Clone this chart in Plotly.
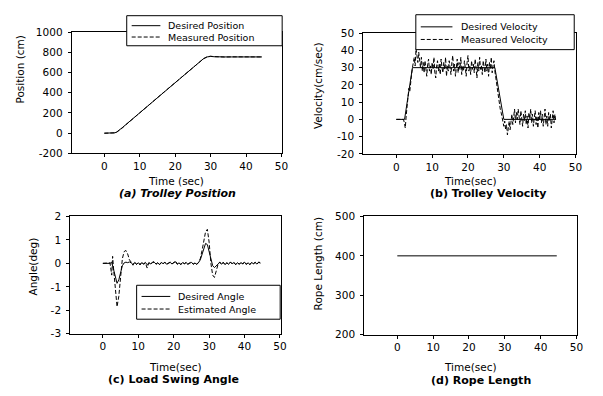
import plotly.graph_objects as go

# ---------------- data ----------------
pos_time = [0, 1, 2, 2.5, 3, 3.5, 4, 4.5, 5, 6, 7, 8, 9, 10, 11, 12, 13, 14, 15, 16, 17, 18, 19, 20,
            21, 22, 23, 24, 25, 26, 27, 28, 29, 30, 31, 32, 34, 36, 38, 40, 42, 44, 44.5]
pos_desired = [0, 0, 0, 0, 4, 12, 24, 38, 53, 83, 113, 143, 173, 203, 233, 263, 293, 323, 353, 383, 413, 443,
               473, 503, 533, 563, 593, 623, 653, 683, 712, 738, 755, 760, 757, 755, 755, 755, 755, 755, 755, 755, 755]
pos_measured = [0, 0, 0, 0, 3, 10, 21, 35, 50, 81, 112, 142, 172, 202, 232, 262, 292, 322, 352, 382, 412, 442,
                472, 502, 532, 562, 592, 622, 652, 682, 711, 737, 756, 762, 758, 755, 754, 756, 755, 754, 756, 755, 755]

vel_time = [
    0, 0.25, 0.5, 0.75, 1, 1.25, 1.5, 1.75, 2, 2.25, 2.5, 2.75, 3, 3.25, 3.5, 3.75,
    4, 4.25, 4.5, 4.75, 5, 5.25, 5.5, 5.75, 6, 6.25, 6.5, 6.75, 7, 7.25, 7.5, 7.75,
    8, 8.25, 8.5, 8.75, 9, 9.25, 9.5, 9.75, 10, 10.25, 10.5, 10.75, 11, 11.25, 11.5, 11.75,
    12, 12.25, 12.5, 12.75, 13, 13.25, 13.5, 13.75, 14, 14.25, 14.5, 14.75, 15, 15.25, 15.5, 15.75,
    16, 16.25, 16.5, 16.75, 17, 17.25, 17.5, 17.75, 18, 18.25, 18.5, 18.75, 19, 19.25, 19.5, 19.75,
    20, 20.25, 20.5, 20.75, 21, 21.25, 21.5, 21.75, 22, 22.25, 22.5, 22.75, 23, 23.25, 23.5, 23.75,
    24, 24.25, 24.5, 24.75, 25, 25.25, 25.5, 25.75, 26, 26.25, 26.5, 26.75, 27, 27.25, 27.5, 27.75,
    28, 28.25, 28.5, 28.75, 29, 29.25, 29.5, 29.75, 30, 30.25, 30.5, 30.75, 31, 31.25, 31.5, 31.75,
    32, 32.25, 32.5, 32.75, 33, 33.25, 33.5, 33.75, 34, 34.25, 34.5, 34.75, 35, 35.25, 35.5, 35.75,
    36, 36.25, 36.5, 36.75, 37, 37.25, 37.5, 37.75, 38, 38.25, 38.5, 38.75, 39, 39.25, 39.5, 39.75,
    40, 40.25, 40.5, 40.75, 41, 41.25, 41.5, 41.75, 42, 42.25, 42.5, 42.75, 43, 43.25, 43.5, 43.75,
    44, 44.25, 44.5]
vel_measured = [
    0, 0, 0, 0, 0, 0, 0, 0, 0, -2, -5, 2, 9, 14, 18, 16,
    23, 26, 30, 33, 36, 31, 41, 37, 33, 39, 35, 30, 36, 28, 33, 27,
    34, 29, 25, 32, 35, 28, 31, 26, 33, 29, 36, 27, 24, 31, 34, 28,
    32, 26, 35, 30, 27, 33, 29, 36, 25, 31, 28, 34, 30, 26, 33, 37,
    28, 32, 25, 30, 35, 27, 33, 29, 36, 26, 31, 28, 34, 30, 25, 33,
    37, 28, 31, 26, 34, 29, 32, 27, 35, 30, 24, 33, 28, 36, 29, 31,
    26, 34, 30, 27, 35, 28, 32, 25, 33, 29, 36, 27, 31, 34, 28, 24,
    20, 18, 13, 10, 6, 4, 1, -2, -4, -1, -6, -3, -9, -5, -1, -6,
    -2, 3, -3, 1, 6, -2, 4, 0, 6, 2, -3, 5, 1, -4, 3, -1,
    5, -3, 2, -5, 4, 0, 6, -2, 3, -4, 1, 5, -3, 2, -5, 4,
    0, 5, -2, 3, -4, 1, 6, -3, 2, -4, 4, -1, 3, -5, 2, 5,
    -2, 3, -1]
vel_des_time = [0, 2, 2.3, 4.5, 6, 27.5, 30, 44.5]
vel_desired = [0, 0, 0, 30, 30, 30, 0, 0]

ang_time = [0, 0.5, 1, 1.5, 2, 2.5, 2.75, 3, 3.5, 4, 4.5, 5, 5.5, 6, 6.5, 7, 7.5, 8, 8.5, 9, 9.5,
            10, 10.5, 11, 11.5, 12, 12.5, 13, 13.5, 14, 14.5, 15, 15.5, 16, 16.5, 17, 17.5, 18, 18.5, 19, 19.5,
            20, 20.5, 21, 21.5, 22, 22.5, 23, 23.5, 24, 24.5, 25, 25.5, 26, 26.5, 27, 27.5, 28, 28.5, 29, 29.5,
            30, 30.5, 31, 31.5, 32, 32.5, 33, 33.5, 34, 34.5, 35, 35.5, 36, 36.5, 37, 37.5, 38, 38.5, 39, 39.5,
            40, 40.5, 41, 41.5, 42, 42.5, 43, 43.5, 44, 44.5]
ang_estimated = [0, 0, 0, 0, 0.02, -0.5, 0.3, -0.2, -1.0, -1.85, -1.4, -0.4, 0.2, 0.5, 0.55, 0.4, 0.15, 0.05, -0.08, 0.06, -0.05,
                 0.03, -0.07, 0.05, -0.04, 0.02, -0.2, 0.04, -0.03, 0.05, 0.08, -0.04, 0.03, -0.06, 0.04, -0.02, 0.05, -0.05, 0.02, 0.06, -0.03,
                 0.04, 0.1, -0.04, 0.03, -0.06, 0.05, -0.02, 0.04, -0.05, 0.03, 0.06, -0.04, 0.02, -0.05, 0.04, 0.2, 0.55, 1.0, 1.35, 1.45,
                 0.9, 0.0, -0.5, -0.6, -0.3, -0.05, 0.06, -0.04, 0.05, -0.07, 0.03, -0.05, 0.06, -0.02, 0.04, -0.06, 0.03, -0.04, 0.05, -0.03,
                 0.07, -0.05, 0.03, -0.06, 0.04, -0.02, 0.05, -0.04, 0.06, 0.02]
ang_desired = [0, 0, 0, 0, 0, 0.05, -0.1, -0.3, -0.6, -0.85, -0.7, -0.35, -0.1, 0.02, 0.05, 0.03, 0.06, 0.02, -0.05, 0.04, -0.03,
               0.02, -0.04, 0.03, -0.02, 0.04, -0.06, 0.02, -0.02, 0.03, 0.05, -0.03, 0.02, -0.04, 0.03, -0.01, 0.04, -0.03, 0.01, 0.04, -0.02,
               0.03, 0.07, -0.03, 0.02, -0.04, 0.03, -0.01, 0.03, -0.03, 0.02, 0.04, -0.03, 0.01, -0.03, 0.03, 0.15, 0.4, 0.7, 0.85, 0.8,
               0.45, 0.1, -0.1, -0.18, -0.1, -0.02, 0.04, -0.03, 0.03, -0.05, 0.02, -0.03, 0.04, -0.01, 0.03, -0.04, 0.02, -0.03, 0.03, -0.02,
               0.05, -0.03, 0.02, -0.04, 0.03, -0.01, 0.03, -0.03, 0.04, 0.01]

rope_time = [0, 10, 20, 30, 40, 44.5]
rope_length = [400, 400, 400, 400, 400, 400]

x_ticks = [0, 10, 20, 30, 40, 50]
pos_ticks = [-200, 0, 200, 400, 600, 800, 1000]
pos_ticktext = ["-200", "0", "200", "400", "600", "800", "1000"]
vel_ticks = [-20, -10, 0, 10, 20, 30, 40, 50]
vel_ticktext = ["-20", "-10", "0", "10", "20", "30", "40", "50"]
ang_ticks = [-3, -2, -1, 0, 1, 2]
ang_ticktext = ["-3", "-2", "-1", "0", "1", "2"]
rope_ticks = [200, 300, 400, 500]
rope_ticktext = ["200", "300", "400", "500"]

# ---------------- figure ----------------
W, H = 603, 396
def px(x):
    return x / W
def py(y):
    return 1 - y / H

FONT = "DejaVu Sans"
fig = go.Figure()
solid = dict(color="black", width=1)
dashed = dict(color="black", width=1, dash="4px,2px")

fig.add_trace(go.Scatter(x=pos_time, y=pos_desired, mode="lines", line=solid, xaxis="x", yaxis="y"))
fig.add_trace(go.Scatter(x=pos_time, y=pos_measured, mode="lines", line=dashed, xaxis="x", yaxis="y"))
fig.add_trace(go.Scatter(x=vel_time, y=vel_measured, mode="lines", line=dashed, xaxis="x2", yaxis="y2"))
fig.add_trace(go.Scatter(x=vel_des_time, y=vel_desired, mode="lines", line=solid, xaxis="x2", yaxis="y2"))
fig.add_trace(go.Scatter(x=ang_time, y=ang_desired, mode="lines", line=solid, xaxis="x3", yaxis="y3"))
fig.add_trace(go.Scatter(x=ang_time, y=ang_estimated, mode="lines", line=dashed, xaxis="x3", yaxis="y3"))
fig.add_trace(go.Scatter(x=rope_time, y=rope_length, mode="lines", line=solid, xaxis="x4", yaxis="y4"))

tickfont = dict(family=FONT, size=10.5, color="black")
def xax(domain, anchor):
    return dict(domain=domain, anchor=anchor, range=[-9.2, 50.2], tickvals=x_ticks,
                showgrid=False, zeroline=False, showline=True, mirror=True, linecolor="black",
                linewidth=1.2, ticks="outside", ticklen=3, tickcolor="black", tickfont=tickfont,
                fixedrange=True)
def yax(domain, anchor, rng, tv, tt):
    return dict(domain=domain, anchor=anchor, range=rng, tickvals=tv, ticktext=tt,
                showgrid=False, zeroline=False, showline=True, mirror=True, linecolor="black",
                linewidth=1.2, ticks="outside", ticklen=3, tickcolor="black", tickfont=tickfont,
                ticklabelstandoff=3, fixedrange=True)

fig.update_layout(
    width=W, height=H, margin=dict(l=0, r=0, t=0, b=0),
    paper_bgcolor="white", plot_bgcolor="white", showlegend=False,
    xaxis=xax([px(72.5), px(285)], "y"),
    yaxis=yax([py(152), py(27)], "x", [-200, 1000], pos_ticks, pos_ticktext),
    xaxis2=xax([px(367), px(582)], "y2"),
    yaxis2=yax([py(152.5), py(28)], "x2", [-20, 50], vel_ticks, vel_ticktext),
    xaxis3=xax([px(71), px(283.5)], "y3"),
    yaxis3=yax([py(338), py(217)], "x3", [-3, 2], ang_ticks, ang_ticktext),
    xaxis4=xax([px(368), px(583)], "y4"),
    yaxis4=yax([py(339), py(217)], "x4", [200, 500], rope_ticks, rope_ticktext),
)

shapes = []
annotations = []

def text(x, y, s, size=10.5, bold=False, italic=False, angle=0, xanchor="center"):
    t = s
    if bold:
        t = "<b>" + t + "</b>"
    if italic:
        t = "<i>" + t + "</i>"
    annotations.append(dict(x=px(x), y=py(y), xref="paper", yref="paper", text=t, showarrow=False,
                            textangle=angle, xanchor=xanchor, yanchor="middle", borderpad=0,
                            font=dict(family=FONT, size=size, color="black")))

# axis titles
text(20.7, 65, "Position (cm)", angle=-90)
text(320.7, 82, "Velocity(cm/sec)", angle=-90)
text(33, 269, "Angle(deg)", angle=-90)
text(320.7, 266, "Rope Length (cm)", angle=-90)
text(178, 180, "Time (sec)")
text(475, 180, "Time(sec)")
text(177, 372, "Time(sec)")
text(475, 372, "Time(sec)")
# captions
text(179, 193.5, "(a) Trolley Position", size=11, bold=True, italic=True)
text(492.6, 193, "(b) Trolley Velocity", size=11, bold=True)
text(175.5, 385, "(c) Load Swing Angle", size=11, bold=True)
text(485.6, 386, "(d) Rope Length", size=11, bold=True)

# manual legends
def legend(x0, y0, x1, y1, lx0, lx1, rows, tx, labels):
    shapes.append(dict(type="rect", xref="paper", yref="paper", x0=px(x0), x1=px(x1), y0=py(y1), y1=py(y0),
                       fillcolor="white", line=dict(color="black", width=1), layer="above"))
    for (ry, lab, st) in zip(rows, labels, ["solid", "dash"]):
        shapes.append(dict(type="line", xref="paper", yref="paper", x0=px(lx0), x1=px(lx1), y0=py(ry), y1=py(ry),
                           line=dict(color="black", width=1, dash=("solid" if st == "solid" else "4px,2px")),
                           layer="above"))
        text(tx, ry, lab, size=9.5, xanchor="left")

legend(128, 10, 285, 41, 133, 162, [20.3, 32.0], 169, ["Desired Position", "Measured Position"])
legend(420, 9, 580, 45, 425, 457, [21.5, 34.5], 465, ["Desired Velocity", "Measured Velocity"])
legend(138, 288, 283, 323, 143, 172, [299.5, 312.5], 179, ["Desired Angle", "Estimated Angle"])

fig.update_layout(shapes=shapes, annotations=annotations)
fig.write_html("out.html")
